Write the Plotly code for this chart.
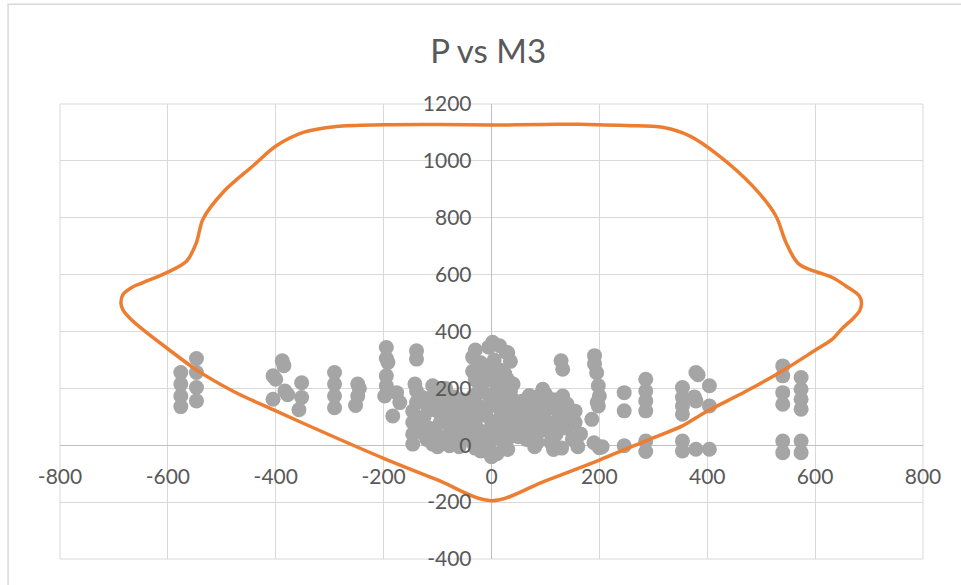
import plotly.graph_objects as go

# Interaction curve (M3, P)
curve_m3 = [0, -100, -200, -300, -405, -479, -547, -602, -645, -670, -683, -687,
            -683, -666, -646, -602, -565, -547, -535, -498, -442, -399, -349, -288,
            -201, -100, 0, 100, 163, 250, 317, 367, 422, 484, 527, 546, 570, 632,
            657, 682, 686, 683, 670, 651, 632, 600, 540, 470, 398, 354, 293, 200, 100, 0]
curve_p = [-195, -122, -46, 36, 125, 190, 265, 342, 405, 446, 475, 500,
           531, 556, 572, 607, 648, 713, 795, 889, 983, 1053, 1100, 1121,
           1127, 1128, 1126, 1128, 1129, 1124, 1118, 1088, 1018, 912, 807, 713, 637, 590,
           560, 525, 500, 475, 445, 412, 373, 334, 262, 188, 118, 68, 21, -52, -125, -195]

# Load points (M3, P)
pts_m3 = [-576, -576, -576, -576, -547, -547, -547, -547,
          -405, -400, -405, -388, -385, -383, -378, -352, -352, -357,
          -291, -291, -291, -291, -248, -245, -248, -252,
          -195, -195, -192, -195, -195, -198, -183, -176, -170,
          -139, -139, -142, -139, -139, -146, -146, -146, -146, -130,
          -109, -109, -78,
          -125, -120, -115, -110, -100, -95, -90, -85, -80, -75, -70, -65, -60, -55, -50,
          -120, -100, -60, -130, -85,
          -105, -90, -70, -55, -45, -115, -95, -75, -50, -65, -125, -100,
          -30, -5, 15, 30, -35, 35, -20, 5, -10, 15, -30, 0, 30, -20, 10, 35, -35, -5, 25,
          -25, 5, 35, -35, -10, 20, -30, 0, 30, -20, 10, 35, -35, -5, 25, -20, 10, 0, 2, 27,
          -15, 20, -25, 10, 40, -40, 0, 25, -15, 40, -40, 15, -25, 5, 40, -10, 20, -30, 30, -5,
          -20, 25, 5, -35, 15, 40, -10, 20,
          50, 55, 58, 60, 65, 70, 75, 80, 85, 90, 95, 100, 105, 110, 115, 120, 125, 130,
          132, 132, 129, 132, 140, 145, 150, 155, 160, 165, 100, 115, 70,
          55, 68, 80, 92, 105, 118, 130, 145, 60, 75, 88, 100, 112, 125, 140, 155, 50, 85, 120,
          191, 191, 195, 198, 200, 196, 198, 186, 190, 200, 205,
          246, 246, 246,
          286, 286, 286, 286, 286, 286,
          354, 354, 354, 354, 354, 354,
          379, 383, 379, 379, 376,
          404, 404, 404,
          540, 540, 540, 540, 540, 540,
          574, 574, 574, 574, 574, 574]
pts_p = [256, 215, 173, 136, 305, 256, 203, 156,
         244, 232, 162, 297, 280, 191, 178, 220, 168, 125,
         256, 215, 173, 132, 215, 200, 173, 140,
         344, 305, 291, 244, 209, 173, 103, 185, 150,
         332, 303, 215, 191, 150, 120, 80, 39, 4, 60,
         209, 4, -2,
         100, 140, 60, 170, 120, 80, 30, 150, 100, 60, 130, 20, 90, 160, 50,
         20, -5, -5, 170, 200,
         40, 110, 170, 120, 30, 125, 160, 20, 80, 50, 40, 190,
         335, 345, 350, 325, 310, 295, 290, 300, 260, 265, 230, 240, 230, 200, 205, 190, 170, 175, 160,
         140, 140, 130, 110, 105, 100, 75, 70, 65, 40, 35, 30, 10, 5, 0, -20, -30, -40, 362, 327,
         220, 215, 185, 185, 160, 140, 155, 125, 120, 95, 85, 85, 55, 50, 55, 20, 15, -10, -15, -25,
         270, 250, 275, 260, 95, 215, 230, 40,
         150, 110, 156, 60, 20, 130, 90, -5, 170, 50, 197, 120, 80, 10, 160, 40, 100, -10,
         173, 150, 297, 267, 60, 120, 20, 80, -5, 40, 180, -15, 175,
         130, 140, 150, 125, 140, 130, 110, 100, 75, 50, 90, 60, 30, 65, 145, 120, 30, 10, -5,
         315, 286, 255, 209, 173, 150, 138, 91, 9, -9, -5,
         185, 121, -2,
         232, 191, 156, 121, 15, -22,
         203, 168, 138, 109, 15, -20,
         256, 248, 156, -14, 170,
         209, 138, -14,
         279, 244, 185, 144, 15, -26,
         238, 197, 162, 127, 15, -26]

x_ticks = [-800, -600, -400, -200, 0, 200, 400, 600, 800]
y_ticks = [-400, -200, 0, 200, 400, 600, 800, 1000, 1200]

fig = go.Figure()
fig.add_trace(go.Scatter(x=pts_m3, y=pts_p, mode="markers",
                         marker=dict(size=15, color="#A5A5A5", line=dict(width=0)),
                         hoverinfo="x+y"))
fig.add_trace(go.Scatter(x=curve_m3, y=curve_p, mode="lines",
                         line=dict(color="#ED7D31", width=3.5, shape="spline", smoothing=0.9)))

tickfont = dict(family="Lato", size=21, color="#595959")
fig.update_layout(
    width=961, height=585,
    margin=dict(l=60, r=38, t=104, b=26),
    paper_bgcolor="white", plot_bgcolor="white",
    showlegend=False,
    title=dict(text="P vs M3", x=0.508, xanchor="center", y=0.912, yanchor="middle",
               font=dict(family="Lato", size=33, color="#595959")),
    xaxis=dict(range=[-800, 800], tickvals=x_ticks, ticktext=[str(v) for v in x_ticks],
               showgrid=True, gridcolor="#D9D9D9", gridwidth=1,
               zeroline=True, zerolinecolor="#BFBFBF", zerolinewidth=1,
               showline=False, ticks="", tickfont=tickfont,
               anchor="free", position=0.25, ticklabelstandoff=17),
    yaxis=dict(range=[-400, 1200], tickvals=y_ticks, ticktext=[str(v) for v in y_ticks],
               showgrid=True, gridcolor="#D9D9D9", gridwidth=1,
               zeroline=True, zerolinecolor="#BFBFBF", zerolinewidth=1,
               showline=False, ticks="", tickfont=tickfont,
               anchor="free", position=0.5, ticklabelstandoff=20),
    shapes=[
        dict(type="rect", xref="paper", yref="paper", x0=0, x1=1, y0=0, y1=1,
             line=dict(color="#D9D9D9", width=1), layer="below"),
        dict(type="rect", xref="paper", yref="paper", x0=-0.0602, x1=1.1, y0=-0.1, y1=1.219,
             line=dict(color="#D9D9D9", width=1.5), layer="below"),
    ],
)
fig.write_html("out.html", config={"displayModeBar": False},
               post_script="document.body.style.margin='0';document.body.style.overflow='hidden';")
